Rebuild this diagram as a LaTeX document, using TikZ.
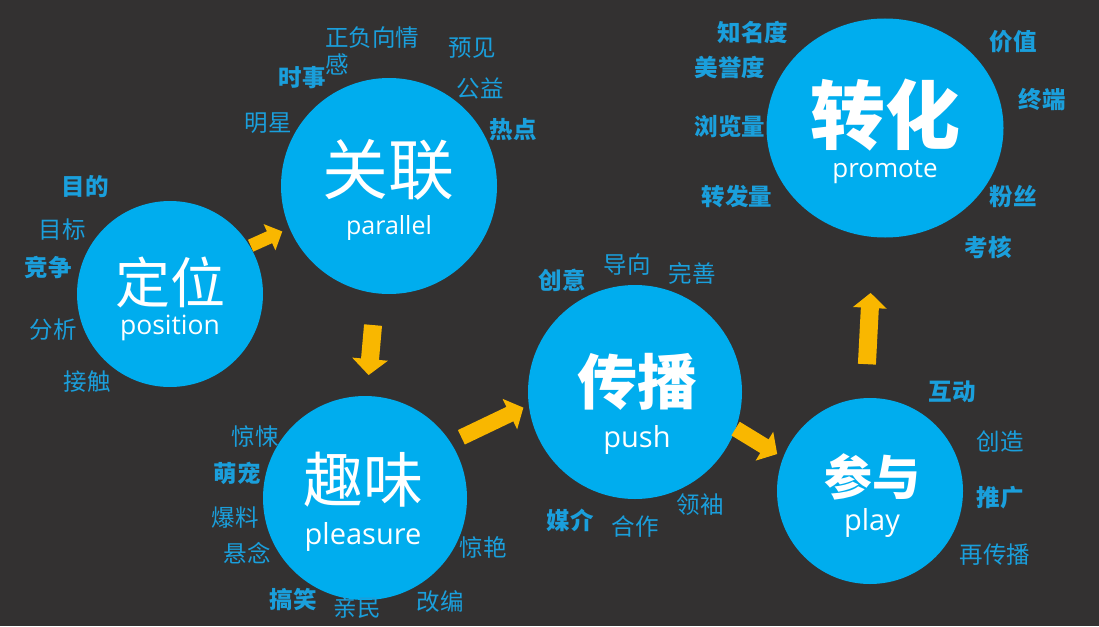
\documentclass[tikz,border=0pt]{standalone}
\usepackage{fontspec}
\setmainfont{Noto Sans CJK SC}
\newfontfamily\lat{Open Sans}
\usetikzlibrary{arrows.meta,shapes.geometric}
\definecolor{bgdark}{HTML}{333131}
\definecolor{ballblue}{HTML}{00ADEE}
\definecolor{lblblue}{HTML}{1A9FDC}
\definecolor{arrowyellow}{HTML}{F9B700}
\begin{document}
\begin{tikzpicture}[x=1pt,y=-1pt,
  ball/.style={circle,fill=ballblue,inner sep=0pt,outer sep=0pt},
  ttl/.style={text=white,inner sep=0pt},
  sub/.style={text=white,inner sep=0pt},
  lbl/.style={text=lblblue,inner sep=0pt,font=\fontsize{23.5}{27}\selectfont},
  lblb/.style={lbl,font=\fontsize{23.5}{27}\selectfont\bfseries},
  yarrow/.style={draw=arrowyellow,line width=16pt,-{Triangle[length=15pt,width=33pt]}}]
\useasboundingbox (0,0) rectangle (1099,626);
\fill [bgdark] (0,0) rectangle (1099,626);
% the six circles
\node [ball,minimum size=186pt] (dingwei) at (170,294) {};
\node [ball,minimum size=216pt] (guanlian) at (389,186) {};
\node [ball,minimum size=204pt] (quwei) at (365,498) {};
\node [ball,minimum size=214pt] (chuanbo) at (635,392) {};
\node [ball,minimum size=186pt] (canyu) at (870,491) {};
\node [ball,ellipse,minimum width=237pt,minimum height=219pt] (zhuanhua) at (885,128) {};
% titles
\node [ttl,font=\fontsize{55}{60}\selectfont] (dingweiT) at (170,282) {定位};
\node [sub,font=\lat\fontsize{26.5}{30}\selectfont] (dingweiS) at (170,328) {position};
\node [ttl,font=\fontsize{66}{70}\selectfont] (guanlianT) at (388,170) {关联};
\node [sub,font=\lat\fontsize{25}{30}\selectfont] (guanlianS) at (389,228) {parallel};
\node [ttl,font=\fontsize{60}{64}\selectfont] (quweiT) at (363,480) {趣味};
\node [sub,font=\lat\fontsize{29}{32}\selectfont] (quweiS) at (363,537) {pleasure};
\node [ttl,font=\fontsize{60}{64}\selectfont\bfseries] (chuanboT) at (637,382) {传播};
\node [sub,font=\lat\fontsize{29}{32}\selectfont] (chuanboS) at (637,440) {push};
\node [ttl,font=\fontsize{48}{52}\selectfont\bfseries] (canyuT) at (872,477) {参与};
\node [sub,font=\lat\fontsize{29}{32}\selectfont] (canyuS) at (872,523) {play};
\node [ttl,font=\fontsize{75}{80}\selectfont\bfseries] (zhuanhuaT) at (885,115) {转化};
\node [sub,font=\lat\fontsize{26}{30}\selectfont] (zhuanhuaS) at (885,172) {promote};
% arrows
\draw [yarrow,line width=13pt,-{Triangle[length=14pt,width=28pt]},shorten <=1pt,shorten >=8pt] (dingwei.31) -- (guanlian.203);
\draw [yarrow,line width=18pt,-{Triangle[length=16pt,width=35pt]},shorten <=32pt,shorten >=21pt] (guanlian.263) -- (quwei.89);
\draw [yarrow,shorten <=12pt,shorten >=6pt] (quwei.33) -- (chuanbo.187);
\draw [yarrow,shorten >=7pt] (chuanbo.340) -- (canyu.159);
\draw [yarrow,line width=18pt,shorten <=34pt,shorten >=56pt] (canyu.93) -- (zhuanhua.264);
% words round dingwei
\node [lblb] (mudi) at (85,187) {目的};
\node [lbl] (mubiao) at (62,230) {目标};
\node [lblb] (jingzheng) at (48,268) {竞争};
\node [lbl] (fenxi) at (53,330) {分析};
\node [lbl] (jiechu) at (87,382) {接触};
% words round guanlian
\node [lbl,align=left,anchor=west] (qinggan) at (325,51) {正负向情\\感};
\node [lblb] (shishi) at (302,78) {时事};
\node [lbl] (yujian) at (472,48) {预见};
\node [lbl] (gongyi) at (480,88) {公益};
\node [lbl] (mingxing) at (268,123) {明星};
\node [lblb] (redian) at (513,130) {热点};
% words round quwei
\node [lbl] (jingsong) at (255,437) {惊悚};
\node [lblb] (mengchong) at (237,473) {萌宠};
\node [lbl] (baoliao) at (235,518) {爆料};
\node [lbl] (xuannian) at (247,553) {悬念};
\node [lblb] (gaoxiao) at (293,600) {搞笑};
\node [lbl] (qinmin) at (357,608) {亲民};
\node [lbl] (gaibian) at (440,602) {改编};
\node [lbl] (jingyan) at (483,547) {惊艳};
% words round chuanbo
\node [lblb] (chuangyi) at (562,280) {创意};
\node [lbl] (daoxiang) at (627,265) {导向};
\node [lbl] (wanshan) at (692,273) {完善};
\node [lblb] (meijie) at (570,520) {媒介};
\node [lbl] (hezuo) at (635,527) {合作};
\node [lbl] (lingxiu) at (700,505) {领袖};
% words round canyu
\node [lblb] (hudong) at (952,392) {互动};
\node [lbl] (chuangzao) at (1000,442) {创造};
\node [lblb] (tuiguang) at (1000,498) {推广};
\node [lbl] (zaichuanbo) at (995,555) {再传播};
% words round zhuanhua
\node [lblb] (zhiming) at (753,32) {知名度};
\node [lblb] (meiyu) at (730,67) {美誉度};
\node [lblb] (liulan) at (730,127) {浏览量};
\node [lblb] (zhuanfa) at (737,197) {转发量};
\node [lblb] (jiazhi) at (1013,42) {价值};
\node [lblb] (zhongduan) at (1042,100) {终端};
\node [lblb] (fensi) at (1013,197) {粉丝};
\node [lblb] (kaohe) at (988,247) {考核};
\end{tikzpicture}
\end{document}
